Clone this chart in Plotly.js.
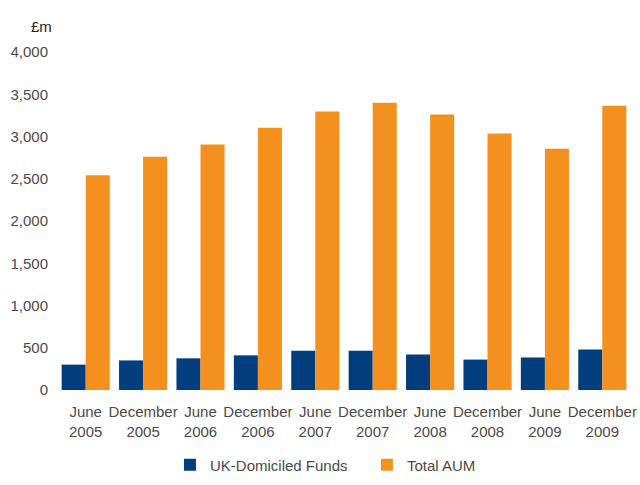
<!DOCTYPE html>
<html>
<head>
<meta charset="utf-8">
<script src="https://cdn.plot.ly/plotly-3.0.1.min.js"></script>
<style>html,body{margin:0;padding:0;background:#fff;}#chart{width:640px;height:485px;}</style>
</head>
<body>
<div id="chart"></div>
<script>
const categories = ["June<br>2005","December<br>2005","June<br>2006","December<br>2006","June<br>2007","December<br>2007","June<br>2008","December<br>2008","June<br>2009","December<br>2009"];
const ukDomiciledFunds = [300, 350, 375, 410, 465, 465, 420, 360, 385, 480];
const totalAUM = [2540, 2760, 2905, 3105, 3295, 3400, 3260, 3035, 2855, 3365];
const yTickVals = [0, 500, 1000, 1500, 2000, 2500, 3000, 3500, 4000];
const yTickText = ["0", "500", "1,000", "1,500", "2,000", "2,500", "3,000", "3,500", "4,000"];

const font = {family: "Liberation Sans, Arial, sans-serif", size: 15, color: "#4a4a4a"};

const data = [
  {type: "bar", name: "UK-Domiciled Funds", x: categories, y: ukDomiciledFunds, marker: {color: "#023e7d"}},
  {type: "bar", name: "Total AUM", x: categories, y: totalAUM, marker: {color: "#f4911e"}}
];

const layout = {
  width: 640, height: 485,
  margin: {l: 57, r: 9, t: 52, b: 94.5, autoexpand: false},
  paper_bgcolor: "#fff", plot_bgcolor: "#fff",
  font: font,
  barmode: "group",
  bargap: 0.162,
  bargroupgap: 0,
  showlegend: true,
  legend: {orientation: "h", x: 0.54, xanchor: "center", yref: "container", y: 0.041, yanchor: "middle", font: font, entrywidth: 152, traceorder: "normal"},
  xaxis: {showgrid: false, zeroline: false, showline: false, ticks: "", ticklabelstandoff: 11, tickfont: font, tickangle: 0, fixedrange: true, automargin: false},
  yaxis: {range: [0, 4000], tickvals: yTickVals, ticktext: yTickText, showgrid: false, zeroline: false, showline: false, ticks: "", ticklabelstandoff: 8, tickfont: font, fixedrange: true, automargin: false},
  annotations: [
    {text: "£m", xref: "paper", yref: "paper", x: -0.048, y: 1.045, xanchor: "left", yanchor: "bottom", showarrow: false, font: {family: "Liberation Sans, Arial, sans-serif", size: 15, color: "#222"}}
  ]
};

Plotly.newPlot("chart", data, layout, {displayModeBar: false, staticPlot: true});
</script>
</body>
</html>
